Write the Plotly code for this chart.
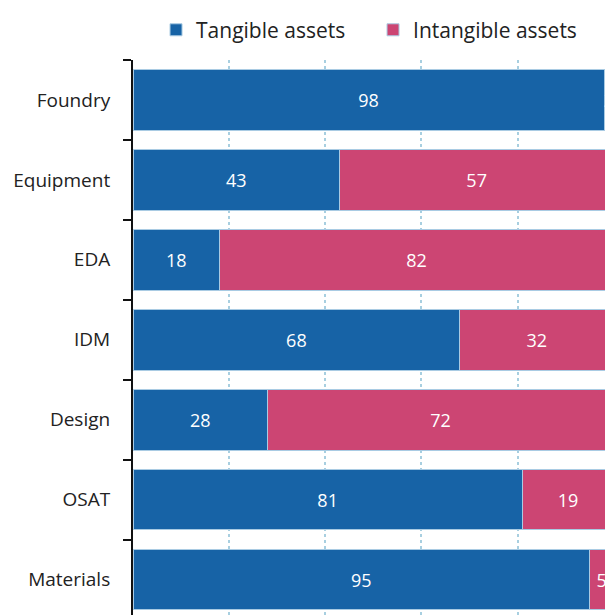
import plotly.graph_objects as go

categories = ["Foundry", "Equipment", "EDA", "IDM", "Design", "OSAT", "Materials"]
tangible = [98, 43, 18, 68, 28, 81, 95]
intangible = [2, 57, 82, 32, 72, 19, 5]
series_names = ["Tangible assets", "Intangible assets"]
colors = ["#1763A6", "#CC4573"]

FONT = "Open Sans"

fig = go.Figure()
for name, vals, col in zip(series_names, [tangible, intangible], colors):
    fig.add_trace(go.Bar(
        y=categories, x=vals, name=name, orientation="h",
        marker=dict(color=col, line=dict(color="#A9CBE3", width=1)),
        text=[str(v) for v in vals], textposition="inside",
        insidetextanchor="middle", textangle=0, constraintext="none",
        textfont=dict(color="white", size=18, family=FONT),
    ))

fig.update_layout(
    width=605, height=615,
    margin=dict(l=133, r=0, t=60, b=0),
    barmode="stack", bargap=0.24,
    plot_bgcolor="white", paper_bgcolor="white",
    font=dict(family=FONT, color="#222222"),
    legend=dict(orientation="h", xref="container", x=0.2579, xanchor="left",
                yref="container", y=0.951, yanchor="middle",
                entrywidth=172, entrywidthmode="pixels",
                font=dict(size=21, family=FONT, color="#222222"),
                traceorder="normal"),
    xaxis=dict(range=[0, 98.2], dtick=20, showticklabels=False,
               showgrid=True, gridcolor="#A8CFE0", griddash="dot", gridwidth=2,
               zeroline=False, showline=False),
    yaxis=dict(categoryorder="array", categoryarray=categories,
               range=[6.444, -0.5], showline=True, linecolor="#111111", linewidth=2,
               ticks="outside", tickson="boundaries", ticklen=8, tickwidth=2,
               tickcolor="#111111", showgrid=False, ticklabelstandoff=17,
               tickfont=dict(size=19, family=FONT, color="#222222")),
)

fig.write_html("out.html")
